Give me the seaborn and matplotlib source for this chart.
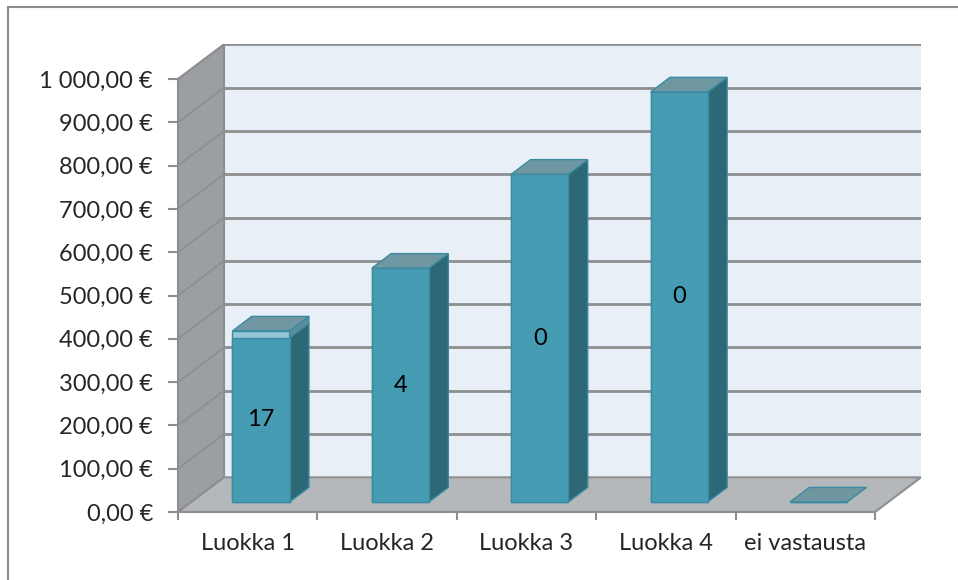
import numpy as np
import pandas as pd
import matplotlib
matplotlib.use("Agg")
import matplotlib.pyplot as plt
import seaborn as sns
from matplotlib.patches import Polygon, Rectangle

# --- data ---
categories = ["Luokka 1", "Luokka 2", "Luokka 3", "Luokka 4", "ei vastausta"]
main_values = [379, 540, 757, 947, 0]
extra_values = [16, 0, 0, 0, 0]
bar_labels = ["17", "4", "0", "0", ""]
y_ticks = list(range(0, 1001, 100))

# colours
FRONT = "#469CB3"
SIDE = "#2C6876"
TOP = "#6F97A2"
LIGHT = "#95C6D6"
LIGHT_SIDE = "#5E8E9A"
EDGE = "#3A8AA1"
BACK_WALL = "#E9EFF7"
SIDE_WALL = "#9B9EA2"
FLOOR = "#B5B8BB"
GRID = "#8E8E8E"

# pseudo 3D geometry (in data units)
DX, DY = 0.33, 80.0        # full depth of the plot box
BAR_OFF = 0.29             # bar front position as fraction of depth
BAR_DEPTH = 0.42           # bar depth as fraction of depth
BAR_W = 0.41

sns.set_style("white")
plt.rcParams["font.family"] = ["Lato", "DejaVu Sans"]
FS = 17

W, H = 958, 580
fig = plt.figure(figsize=(W / 100, H / 100), dpi=100)

# axes box: front axis at x=178 px, y=512 px; 139.4 px per category, 0.433 px per unit
px_cat, px_val = 139.4, 0.433
x0, y0 = 178, 512
xmax = 4.5 + DX
ymax = 1000 + DY
left = x0 / W
right = (x0 + (xmax + 0.5) * px_cat) / W
bottom = (H - y0) / H
top = (H - (y0 - ymax * px_val)) / H
ax = fig.add_axes([left, bottom, right - left, top - bottom])

df = pd.DataFrame({"Luokka": categories, "main": main_values, "extra": extra_values})
df["total"] = df["main"] + df["extra"]

# front faces: totals (light top segment) then the main series over it
sns.barplot(data=df, x="Luokka", y="total", color=LIGHT, width=BAR_W, saturation=1,
            edgecolor=EDGE, linewidth=1, ax=ax, zorder=4)
sns.barplot(data=df, x="Luokka", y="main", color=FRONT, width=BAR_W, saturation=1,
            edgecolor=EDGE, linewidth=1, ax=ax, zorder=5)

ox, oy = BAR_OFF * DX, BAR_OFF * DY
bx, by = BAR_DEPTH * DX, BAR_DEPTH * DY
for cont in ax.containers:
    for p in cont.patches:
        p.set_x(p.get_x() + ox)
        p.set_y(p.get_y() + oy)

total_bars = ax.containers[0].patches
main_bars = ax.containers[1].patches
for pt, pm, lab in zip(total_bars, main_bars, bar_labels):
    xl = pt.get_x()
    xr = xl + pt.get_width()
    yb = pt.get_y()
    ym = yb + pm.get_height()
    yt = yb + pt.get_height()
    # side faces
    if pm.get_height() > 0:
        ax.add_patch(Polygon([(xr, yb), (xr + bx, yb + by), (xr + bx, ym + by), (xr, ym)],
                             closed=True, facecolor=SIDE, edgecolor=EDGE, lw=1, zorder=4))
    if yt > ym:
        ax.add_patch(Polygon([(xr, ym), (xr + bx, ym + by), (xr + bx, yt + by), (xr, yt)],
                             closed=True, facecolor=LIGHT_SIDE, edgecolor=EDGE, lw=1, zorder=4))
    # top face
    ax.add_patch(Polygon([(xl, yt), (xr, yt), (xr + bx, yt + by), (xl + bx, yt + by)],
                         closed=True, facecolor=TOP, edgecolor=EDGE, lw=1, zorder=6))
    if lab:
        ax.text((xl + xr) / 2, yb + pm.get_height() / 2, lab, ha="center", va="center",
                fontsize=FS, color="black", zorder=7)

# walls and floor
ax.add_patch(Rectangle((-0.5 + DX, DY), 5, 1000, facecolor=BACK_WALL, edgecolor="none",
                       zorder=0))
ax.add_patch(Polygon([(-0.5, 0), (-0.5, 1000), (-0.5 + DX, 1000 + DY), (-0.5 + DX, DY)],
                     closed=True, facecolor=SIDE_WALL, edgecolor=GRID, lw=1.5, zorder=0))
ax.add_patch(Polygon([(-0.5, 0), (4.5, 0), (4.5 + DX, DY), (-0.5 + DX, DY)],
                     closed=True, facecolor=FLOOR, edgecolor=GRID, lw=1.5, zorder=1))
for v in y_ticks[1:]:
    ax.plot([-0.5 + DX, 4.5 + DX], [v + DY, v + DY], color=GRID, lw=2, zorder=1,
            solid_capstyle="butt")
    ax.plot([-0.5, -0.5 + DX], [v, v + DY], color=GRID, lw=1.2, zorder=1)

ax.set_xlim(-0.5, xmax)
ax.set_ylim(0, ymax)
ax.set_xlabel("")
ax.set_ylabel("")

for s in ["top", "right"]:
    ax.spines[s].set_visible(False)
ax.spines["left"].set_bounds(0, 1000)
ax.spines["bottom"].set_bounds(-0.5, 4.5)
for s in ["left", "bottom"]:
    ax.spines[s].set_color(GRID)
    ax.spines[s].set_linewidth(1.5)
    ax.spines[s].set_zorder(2)

ax.set_yticks(y_ticks)
ax.set_yticklabels([f"{v:,.2f}".replace(",", " ").replace(".", ",") + " €" for v in y_ticks])
ax.tick_params(axis="y", length=7, width=1.5, color=GRID, pad=11, labelsize=FS, left=True)

ax.set_xticks(range(len(categories)))
ax.set_xticklabels(categories)
ax.set_xticks(np.arange(-0.5, 5, 1), minor=True)
ax.tick_params(axis="x", which="major", length=0, pad=15, labelsize=FS)
ax.tick_params(axis="x", which="minor", length=6, width=1.5, color=GRID, bottom=True)

# outer chart border (only the top and left edges fall inside the image)
fig.patches.append(Rectangle((8 / W, -0.1), 1.2, 1.1 - 7 / H, transform=fig.transFigure,
                             fill=False, edgecolor="#8A8A8A", lw=1.5))

fig.savefig("out.png", dpi=100)
